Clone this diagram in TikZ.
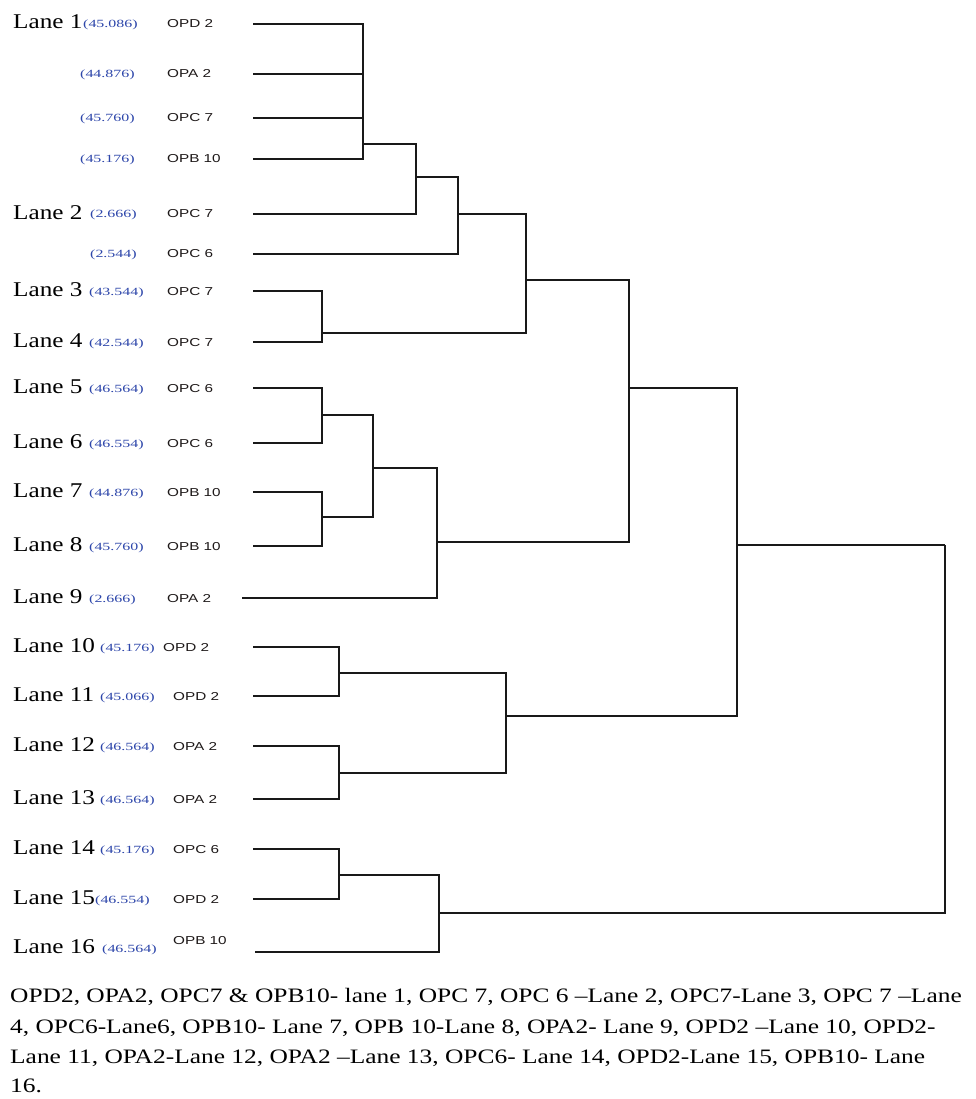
\documentclass[tikz,border=0pt]{standalone}
\usepackage{fontspec}
\usepackage{graphicx}
\setmainfont{Liberation Serif}
\newfontfamily\opfont{Liberation Sans}
\definecolor{valblue}{RGB}{45,70,170}
\definecolor{optext}{RGB}{30,25,25}
\newcommand\sx[2]{\scalebox{#1}[1]{#2}}
\tikzset{
  edge/.style={draw=black!90, line width=1.8pt},
  thickedge/.style={draw=black!90, line width=2.6pt},
  lanelab/.style={anchor=base west, inner sep=0pt, font=\fontsize{21}{21}\selectfont},
  vallab/.style={anchor=base west, inner sep=0pt, text=valblue, font=\fontsize{11}{11}\selectfont},
  oplab/.style={anchor=base west, inner sep=0pt, text=optext, font=\opfont\fontsize{11.5}{11.5}\selectfont},
  caplab/.style={anchor=base west, inner sep=0pt, font=\fontsize{20.5}{20.5}\selectfont},
}
\begin{document}
\begin{tikzpicture}[x=1pt,y=-1pt]
\useasboundingbox[fill=white] (0,0) rectangle (975,1099);
% leaves
\coordinate (a1) at (253,24);
\coordinate (a2) at (253,74);
\coordinate (a3) at (253,118);
\coordinate (a4) at (253,159);
\coordinate (a5) at (253,214);
\coordinate (a6) at (253,254);
\coordinate (b3) at (253,291);
\coordinate (b4) at (253,342);
\coordinate (b5) at (253,388);
\coordinate (b6) at (253,443);
\coordinate (b7) at (253,492);
\coordinate (b8) at (253,546);
\coordinate (b9) at (242,598);
\coordinate (b10) at (253,647);
\coordinate (b11) at (253,696);
\coordinate (b12) at (253,746);
\coordinate (b13) at (253,799);
\coordinate (b14) at (253,849);
\coordinate (b15) at (253,899);
\coordinate (b16) at (255,952);
% merges
\coordinate (m1) at (363,144);
\coordinate (m2) at (416,177);
\coordinate (m3) at (458,214);
\coordinate (m4) at (322,333);
\coordinate (m5) at (526,280);
\coordinate (m6) at (322,415);
\coordinate (m7) at (322,517);
\coordinate (m8) at (373,468);
\coordinate (m9) at (437,542);
\coordinate (m10) at (629,388);
\coordinate (m11) at (339,673);
\coordinate (m12) at (339,773);
\coordinate (m13) at (506,716);
\coordinate (m14) at (737,545);
\coordinate (m15) at (339,875);
\coordinate (m16) at (439,913);
\coordinate (root) at (945,545);
% edges
\draw[edge] (a1) -| (m1);
\draw[thickedge] (a2) -- (a2 -| m1);
\draw[thickedge] (a3) -- (a3 -| m1);
\draw[edge] (a4) -| (m1);
\draw[edge] (m1) -| (m2);
\draw[edge] (a5) -| (m2);
\draw[edge] (m2) -| (m3);
\draw[edge] (a6) -| (m3);
\draw[edge] (m3) -| (m5);
\draw[thickedge] (b3) -| (m4);
\draw[edge] (b4) -| (m4);
\draw[edge] (m4) -| (m5);
\draw[edge] (b5) -| (m6);
\draw[edge] (b6) -| (m6);
\draw[edge] (b7) -| (m7);
\draw[edge] (b8) -| (m7);
\draw[edge] (m6) -| (m8);
\draw[edge] (m7) -| (m8);
\draw[edge] (m8) -| (m9);
\draw[edge] (b9) -| (m9);
\draw[edge] (m5) -| (m10);
\draw[thickedge] (m9) -| (m10);
\draw[edge] (b10) -| (m11);
\draw[edge] (b11) -| (m11);
\draw[thickedge] (b12) -| (m12);
\draw[thickedge] (b13) -| (m12);
\draw[edge] (m11) -| (m13);
\draw[edge] (m12) -| (m13);
\draw[edge] (m10) -| (m14);
\draw[edge] (m13) -| (m14);
\draw[thickedge] (b14) -| (m15);
\draw[edge] (b15) -| (m15);
\draw[edge] (m15) -| (m16);
\draw[edge] (b16) -| (m16);
\draw[edge] (m14) -| (root);
\draw[thickedge] (m16) -| (root);
% lane labels
\node[lanelab] (l1) at (13,29) {\sx{1.2}{Lane 1}};
\node[lanelab] (l2) at (13,219) {\sx{1.2}{Lane 2}};
\node[lanelab] (l3) at (13,296) {\sx{1.2}{Lane 3}};
\node[lanelab] (l4) at (13,347) {\sx{1.2}{Lane 4}};
\node[lanelab] (l5) at (13,393) {\sx{1.2}{Lane 5}};
\node[lanelab] (l6) at (13,448) {\sx{1.2}{Lane 6}};
\node[lanelab] (l7) at (13,497) {\sx{1.2}{Lane 7}};
\node[lanelab] (l8) at (13,551) {\sx{1.2}{Lane 8}};
\node[lanelab] (l9) at (13,603) {\sx{1.2}{Lane 9}};
\node[lanelab] (l10) at (13,652) {\sx{1.2}{Lane 10}};
\node[lanelab] (l11) at (13,701) {\sx{1.2}{Lane 11}};
\node[lanelab] (l12) at (13,751) {\sx{1.2}{Lane 12}};
\node[lanelab] (l13) at (13,804) {\sx{1.2}{Lane 13}};
\node[lanelab] (l14) at (13,854) {\sx{1.2}{Lane 14}};
\node[lanelab] (l15) at (13,904) {\sx{1.2}{Lane 15}};
\node[lanelab] (l16) at (13,953) {\sx{1.2}{Lane 16}};
% values
\node[vallab] (v1) at (83,28) {\sx{1.45}{(45.086)}};
\node[vallab] (v1b) at (80,78) {\sx{1.45}{(44.876)}};
\node[vallab] (v1c) at (80,122) {\sx{1.45}{(45.760)}};
\node[vallab] (v1d) at (80,163) {\sx{1.45}{(45.176)}};
\node[vallab] (v2) at (90,218) {\sx{1.45}{(2.666)}};
\node[vallab] (v2b) at (90,258) {\sx{1.45}{(2.544)}};
\node[vallab] (v3) at (89,295) {\sx{1.45}{(43.544)}};
\node[vallab] (v4) at (89,346) {\sx{1.45}{(42.544)}};
\node[vallab] (v5) at (89,392) {\sx{1.45}{(46.564)}};
\node[vallab] (v6) at (89,447) {\sx{1.45}{(46.554)}};
\node[vallab] (v7) at (89,496) {\sx{1.45}{(44.876)}};
\node[vallab] (v8) at (89,550) {\sx{1.45}{(45.760)}};
\node[vallab] (v9) at (89,602) {\sx{1.45}{(2.666)}};
\node[vallab] (v10) at (100,651) {\sx{1.45}{(45.176)}};
\node[vallab] (v11) at (100,700) {\sx{1.45}{(45.066)}};
\node[vallab] (v12) at (100,750) {\sx{1.45}{(46.564)}};
\node[vallab] (v13) at (100,803) {\sx{1.45}{(46.564)}};
\node[vallab] (v14) at (100,853) {\sx{1.45}{(45.176)}};
\node[vallab] (v15) at (95,903) {\sx{1.45}{(46.554)}};
\node[vallab] (v16) at (102,952) {\sx{1.45}{(46.564)}};
% OP labels
\node[oplab] (o1) at (167,28) {\sx{1.33}{OPD 2}};
\node[oplab] (o1b) at (167,78) {\sx{1.33}{OPA 2}};
\node[oplab] (o1c) at (167,122) {\sx{1.33}{OPC 7}};
\node[oplab] (o1d) at (167,163) {\sx{1.33}{OPB 10}};
\node[oplab] (o2) at (167,218) {\sx{1.33}{OPC 7}};
\node[oplab] (o2b) at (167,258) {\sx{1.33}{OPC 6}};
\node[oplab] (o3) at (167,295) {\sx{1.33}{OPC 7}};
\node[oplab] (o4) at (167,346) {\sx{1.33}{OPC 7}};
\node[oplab] (o5) at (167,392) {\sx{1.33}{OPC 6}};
\node[oplab] (o6) at (167,447) {\sx{1.33}{OPC 6}};
\node[oplab] (o7) at (167,496) {\sx{1.33}{OPB 10}};
\node[oplab] (o8) at (167,550) {\sx{1.33}{OPB 10}};
\node[oplab] (o9) at (167,602) {\sx{1.33}{OPA 2}};
\node[oplab] (o10) at (163,651) {\sx{1.33}{OPD 2}};
\node[oplab] (o11) at (173,700) {\sx{1.33}{OPD 2}};
\node[oplab] (o12) at (173,750) {\sx{1.33}{OPA 2}};
\node[oplab] (o13) at (173,803) {\sx{1.33}{OPA 2}};
\node[oplab] (o14) at (173,853) {\sx{1.33}{OPC 6}};
\node[oplab] (o15) at (173,903) {\sx{1.33}{OPD 2}};
\node[oplab] (o16) at (173,944) {\sx{1.33}{OPB 10}};
% caption
\node[caplab] (c1) at (10,1002) {\sx{1.24}{OPD2, OPA2, OPC7 \& OPB10- lane 1, OPC 7, OPC 6 –Lane 2, OPC7-Lane 3, OPC 7 –Lane}};
\node[caplab] (c2) at (10,1033) {\sx{1.24}{4, OPC6-Lane6, OPB10- Lane 7, OPB 10-Lane 8, OPA2- Lane 9, OPD2 –Lane 10, OPD2-}};
\node[caplab] (c3) at (10,1063) {\sx{1.24}{Lane 11, OPA2-Lane 12, OPA2 –Lane 13, OPC6- Lane 14, OPD2-Lane 15, OPB10- Lane}};
\node[caplab] (c4) at (10,1092) {\sx{1.24}{16.}};
\end{tikzpicture}
\end{document}
